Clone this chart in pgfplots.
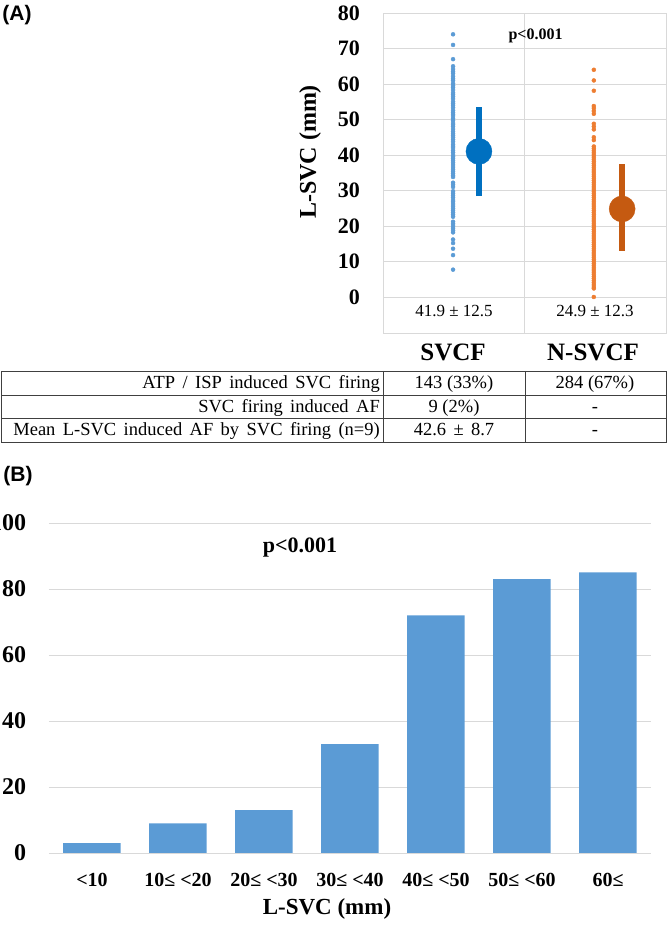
\documentclass[border=0pt]{standalone}
\usepackage{fontspec}
\setmainfont{Liberation Serif}
\newfontfamily\arialfont{Liberation Sans}
\usepackage{pgfplots}
\usepackage{pgfplotstable}
\pgfplotsset{compat=1.18}
\definecolor{gridgray}{HTML}{D9D9D9}
\definecolor{dotblue}{HTML}{5B9BD5}
\definecolor{meanblue}{HTML}{0070C0}
\definecolor{dotorange}{HTML}{ED7D31}
\definecolor{meanorange}{HTML}{C55A11}
\definecolor{barblue}{HTML}{5B9BD5}
\definecolor{tablegray}{HTML}{404040}
\newcommand{\fs}[1]{\fontsize{#1}{#1}\selectfont}

\pgfplotstableread{
y
74
71
67
65
64.2
63.5
63
62.2
61.5
61
60.2
59.5
59
58.3
57.5
57
56.4
55.8
55
54.5
54
53.3
52.6
52
51.5
51
50.3
49.7
49
48.5
48
47.3
46.6
46
45.5
45
44.3
43.7
43
42.5
42
41.3
40.7
40
39.5
39
38.4
37.8
37.2
36.6
36
35.4
34.8
34.2
33.8
32.2
31.6
31
29.8
29.2
28.6
28
27.3
26.8
26.2
25.6
25
24.4
23.8
23.2
22.6
21.2
20.6
20
19.4
18.8
18.2
16.2
15.2
13.6
11.8
7.7
}\svcf

\pgfplotstableread{
y
64
61
58.1
53.8
53.2
52.4
51.6
48.8
48
47.2
45
44.2
42.4
41.8
41.2
40.6
40.0
39.4
38.8
38.2
37.6
37.0
36.4
35.8
35.2
34.6
34.0
33.4
32.8
32.2
31.6
31.0
30.4
29.8
29.2
28.6
28.0
27.4
26.8
26.2
25.6
25.0
24.4
23.8
23.2
22.6
22.0
21.4
20.8
20.2
19.6
19.0
18.4
17.8
17.2
16.6
16.0
15.4
14.8
14.2
13.6
13.0
12.4
11.8
11.2
10.6
10.0
9.4
8.8
8.2
7.6
7.0
6.4
5.8
5.2
4.6
4.0
3.4
2.8
2.4
0
}\nsvcf

\begin{document}
\begin{tikzpicture}[x=1pt,y=1pt]
\useasboundingbox (0,0) rectangle (668,928);

% ---------- Panel A ----------
\begin{axis}[
  at={(383pt,595pt)}, anchor=south west, scale only axis,
  width=283pt, height=320pt,
  xmin=0, xmax=2, ymin=-10.14, ymax=80,
  xtick={1}, xticklabels={}, xmajorgrids, ymajorgrids,
  ytick={0,10,...,80},
  grid style={gridgray, line width=0.8pt},
  axis line style={gridgray, line width=0.8pt},
  major tick length=0pt,
  /pgf/number format/assume math mode=true,
  yticklabel style={font=\fs{22}\bfseries, inner sep=0pt, xshift=-23pt},
  clip=false,
]
\addplot[only marks, mark=*, mark size=2pt, color=dotblue] table[x expr=0.495, y=y] {\svcf};
\addplot[line width=6pt, meanblue] coordinates {(0.678,28.4) (0.678,53.6)};
\addplot[only marks, mark=*, mark size=13pt, color=meanblue] coordinates {(0.678,41.0)};
\addplot[only marks, mark=*, mark size=2pt, color=dotorange] table[x expr=1.49, y=y] {\nsvcf};
\addplot[line width=6pt, meanorange] coordinates {(1.69,13.0) (1.69,37.4)};
\addplot[only marks, mark=*, mark size=13pt, color=meanorange] coordinates {(1.69,24.8)};
\end{axis}

\node[font=\arialfont\bfseries\fs{21}] at (17,913) {(A)};
\node[rotate=90, font=\bfseries\fs{24}] at (310,776) {L-SVC (mm)};
\node[font=\bfseries\fs{16}, anchor=base] at (535.5,888.5) {p<0.001};
\node[font=\fs{17}, anchor=base] at (454,611) {41.9 ± 12.5};
\node[font=\fs{17}, anchor=base] at (595,611) {24.9 ± 12.3};
\node[font=\bfseries\fs{25}, anchor=base] at (453,567) {SVCF};
\node[font=\bfseries\fs{25}, anchor=base] at (593,567) {N-SVCF};

% table
\draw[tablegray, line width=0.8pt] (1,557) rectangle (666,486);
\draw[tablegray, line width=0.8pt] (1,533) -- (666,533);
\draw[tablegray, line width=0.8pt] (1,510) -- (666,510);
\draw[tablegray, line width=0.8pt] (383,557) -- (383,486);
\draw[tablegray, line width=0.8pt] (525,557) -- (525,486);
\node[font=\fs{18.5}, anchor=base east, inner sep=0pt] at (380,539) {\spaceskip=0.4em ATP / ISP induced SVC firing};
\node[font=\fs{18.5}, anchor=base east, inner sep=0pt] at (380,515) {\spaceskip=0.4em SVC firing induced AF};
\node[font=\fs{18.5}, anchor=base east, inner sep=0pt] at (380,492) {\spaceskip=0.4em Mean L-SVC induced AF by SVC firing (n=9)};
\node[font=\fs{18.5}, anchor=base] at (454,539) {143 (33\%)};
\node[font=\fs{18.5}, anchor=base] at (595,539) {284 (67\%)};
\node[font=\fs{18.5}, anchor=base] at (454,515) {9 (2\%)};
\node[font=\fs{18.5}, anchor=base] at (595,515) {-};
\node[font=\fs{18.5}, anchor=base] at (454,492) {\spaceskip=0.4em 42.6 ± 8.7};
\node[font=\fs{18.5}, anchor=base] at (595,492) {-};

% ---------- Panel B ----------
\node[font=\arialfont\bfseries\fs{21}] at (18,452) {(B)};
\begin{axis}[
  at={(49pt,75pt)}, anchor=south west, scale only axis,
  width=602pt, height=330pt,
  xmin=-0.5, xmax=6.5, ymin=0, ymax=100,
  ytick={0,20,...,100}, xtick={0,...,6},
  xticklabels={{<10},{10≤ <20},{20≤ <30},{30≤ <40},{40≤ <50},{50≤ <60},{60≤}},
  ymajorgrids, grid style={gridgray, line width=0.8pt},
  axis line style={draw=none},
  major tick length=0pt,
  /pgf/number format/assume math mode=true,
  yticklabel style={font=\fs{24}\bfseries, inner sep=0pt, xshift=-22.6pt},
  xticklabel style={font=\fs{20}\bfseries, inner sep=0pt, anchor=base, yshift=-34pt},
  clip=false,
]
\addplot[ybar, bar width=57.5pt, fill=barblue, draw=none] coordinates {(0,3) (1,9) (2,13) (3,33) (4,72) (5,83) (6,85)};
\end{axis}
\node[font=\bfseries\fs{22}, anchor=base] at (300,375) {p<0.001};
\node[font=\bfseries\fs{23}, anchor=base] at (327,13) {L-SVC (mm)};
\end{tikzpicture}
\end{document}
